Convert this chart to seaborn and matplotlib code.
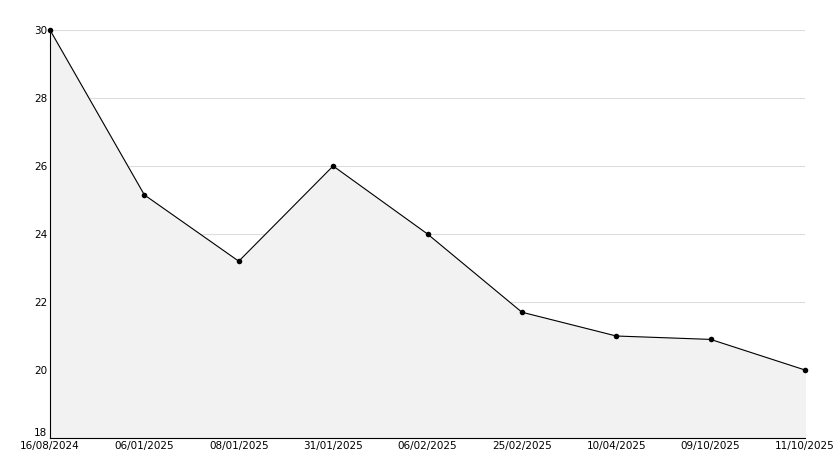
import matplotlib
matplotlib.use('Agg')
import matplotlib.pyplot as plt
import seaborn as sns
import numpy as np

dates = ['16/08/2024', '06/01/2025', '08/01/2025', '31/01/2025', '06/02/2025',
         '25/02/2025', '10/04/2025', '09/10/2025', '11/10/2025']
values = [30, 25.15, 23.2, 26, 24, 21.7, 21, 20.9, 20]

sns.set_style('white')
plt.rcParams['font.family'] = ['DejaVu Sans']

fig = plt.figure(figsize=(8.34, 4.68), dpi=100)
ax = fig.add_axes([50 / 834, 30 / 468, 755 / 834, 408 / 468])
xs = np.arange(len(dates))
ax.fill_between(xs, values, 18, color='#f2f2f2', zorder=1)
sns.lineplot(x=xs, y=values, ax=ax, color='black', linewidth=0.8,
             marker='o', markersize=4, markeredgewidth=0, zorder=3,
             clip_on=False)

ax.set_xlim(0, len(dates) - 1)
ax.set_ylim(18, 30)
ax.set_xticks(xs)
ax.set_xticklabels(dates)
ax.set_yticks(range(18, 31, 2))
ax.set_yticks(range(19, 31, 2), minor=True)
for y in range(20, 31, 2):
    ax.axhline(y, color='#dddddd', linewidth=0.8, zorder=0)
ax.tick_params(axis='both', which='both', direction='in', labelsize=7.5,
               colors='black', length=5, width=0.8, pad=2)
ax.tick_params(axis='y', which='minor', length=3)
# lift the bottom y label a little so it clears the first date
ax.get_yticklabels()[0].set_verticalalignment('bottom')
for s in ['top', 'right']:
    ax.spines[s].set_visible(False)
for s in ['left', 'bottom']:
    ax.spines[s].set_color('black')
    ax.spines[s].set_linewidth(0.8)
ax.set_facecolor('white')
fig.savefig('out.png', dpi=100)
